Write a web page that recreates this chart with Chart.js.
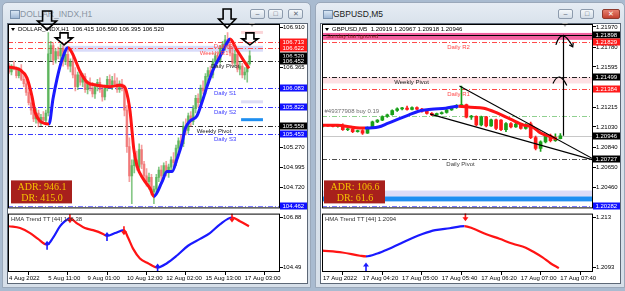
<!DOCTYPE html>
<html>
<head>
<meta charset="utf-8">
<script src="https://cdn.jsdelivr.net/npm/chart.js@4.4.0/dist/chart.umd.min.js"></script>
<style>
body{margin:0;width:625px;height:291px;background:#a9bbd0;position:relative;overflow:hidden;font-family:"Liberation Sans",Arial,sans-serif}
.win{position:absolute;top:2px;height:286px;background:linear-gradient(#e6ecf4,#d8e1eb 22px,#d6dfe9);border:1px solid #9aa8ba;border-radius:5px 5px 0 0;box-sizing:border-box}
.cap{position:absolute;left:17px;top:6px;font-size:8.5px;line-height:10px}
.ico{position:absolute;left:7px;top:7px;width:8px;height:7px;background:linear-gradient(#d9e6f4,#9fb8d6);border:1px solid #7890ad}
.btn{position:absolute;top:6px;height:10px;border:1px solid #8d9bad;border-radius:2px;background:linear-gradient(#f5f8fb,#d3dce7);box-sizing:border-box;font-size:7px;line-height:8px;text-align:center;color:#5a6573}
.client{position:absolute;left:4px;top:20px;width:301px;height:261px;background:#fff;border:1px solid #5d6877;box-sizing:border-box}
canvas{position:absolute;z-index:5}
</style>
</head>
<body>
<div class="win" style="left:2px;width:309px">
  <div class="ico"></div><div class="cap" style="color:#8a95a3">DOLLAR_INDX,H1</div>
  <div class="btn" style="left:247px;width:15px">&#8211;</div>
  <div class="btn" style="left:265px;width:15px">&#9633;</div>
  <div class="btn" style="left:285px;width:15px">&#10005;</div>
  <div class="client"></div>
</div>
<div class="win" style="left:315px;width:310px">
  <div class="ico"></div><div class="cap" style="color:#1a1a1a">GBPUSD,M5</div>
  <div class="btn" style="left:242px;width:15px">&#8211;</div>
  <div class="btn" style="left:264px;width:14px">&#9633;</div>
  <div class="btn" style="left:286px;width:18px;background:linear-gradient(#e6806f,#c4412f);border-color:#8e3a2e;color:#fff">&#10005;</div>
  <div class="client"></div>
</div>
<canvas id="usdMain" width="312" height="212" style="left:0;top:0"></canvas>
<canvas id="usdSub" width="312" height="81" style="left:0;top:210px"></canvas>
<canvas id="gbpMain" width="313" height="212" style="left:312px;top:0"></canvas>
<canvas id="gbpSub" width="313" height="81" style="left:312px;top:210px"></canvas>
<script>
// ---------- DOLLAR_INDX, H1 ----------
var usdOHLC = [
  [106.36,106.42,106.28,106.30],[106.30,106.40,106.26,106.38],[106.38,106.45,106.33,106.35],[106.35,106.37,106.22,106.25],
  [106.25,106.36,106.22,106.33],[106.33,106.40,106.18,106.20],[106.20,106.28,106.10,106.14],[106.14,106.22,105.98,106.02],
  [106.02,106.10,105.85,105.88],[105.88,105.96,105.72,105.78],[105.78,105.86,105.62,105.66],[105.66,105.80,105.60,105.74],
  [105.74,105.78,105.55,105.60],[105.60,105.72,105.57,105.68],[105.68,105.76,105.62,105.64],[105.64,105.78,105.60,105.74],
  [105.74,106.84,105.70,106.55],[106.55,106.72,106.45,106.66],[106.66,106.70,106.40,106.46],[106.46,106.62,106.42,106.58],
  [106.58,106.64,106.48,106.52],[106.52,106.68,106.46,106.62],[106.62,106.66,106.38,106.44],[106.44,106.58,106.40,106.54],
  [106.54,106.60,106.34,106.38],[106.38,106.48,106.30,106.44],[106.44,106.50,106.22,106.26],[106.26,106.36,106.04,106.10],
  [106.10,106.30,106.06,106.26],[106.26,106.32,106.12,106.16],[106.16,106.28,106.10,106.24],[106.24,106.28,106.02,106.06],
  [106.06,106.18,106.00,106.14],[106.14,106.22,106.04,106.08],[106.08,106.16,105.96,106.00],[106.00,106.14,105.94,106.10],
  [106.10,106.20,106.04,106.16],[106.16,106.22,106.02,106.06],[106.06,106.10,105.90,105.96],[105.96,106.12,105.92,106.08],
  [106.08,106.24,106.04,106.20],[106.20,106.26,106.08,106.12],[106.12,106.24,106.06,106.18],[106.18,106.28,106.10,106.14],
  [106.14,106.22,106.02,106.06],[106.06,106.18,106.02,106.14],[106.14,106.20,106.04,106.08],[106.08,106.12,105.70,105.78],
  [105.78,105.84,105.20,105.28],[105.28,105.40,104.80,104.88],[104.88,105.10,104.50,105.02],[105.02,105.16,104.92,105.10],
  [105.10,105.22,104.96,105.00],[105.00,105.32,104.95,105.24],[105.24,105.30,104.98,105.04],[105.04,105.08,104.82,104.88],
  [104.88,104.98,104.74,104.80],[104.80,104.92,104.70,104.86],[104.86,104.90,104.62,104.66],[104.66,104.74,104.50,104.70],
  [104.70,104.90,104.64,104.86],[104.86,105.00,104.80,104.96],[104.96,105.02,104.82,104.88],[104.88,105.06,104.84,105.02],
  [105.02,105.08,104.88,104.92],[104.92,105.04,104.86,105.00],[105.00,105.14,104.94,105.10],[105.10,105.20,105.00,105.06],
  [105.06,105.30,105.02,105.26],[105.26,105.40,105.20,105.36],[105.36,105.44,105.28,105.32],[105.32,105.62,105.28,105.56],
  [105.56,105.66,105.44,105.50],[105.50,105.74,105.46,105.70],[105.70,105.76,105.56,105.62],[105.62,105.84,105.58,105.80],
  [105.80,105.98,105.74,105.94],[105.94,106.00,105.82,105.88],[105.88,106.12,105.84,106.08],[106.08,106.18,106.00,106.04],
  [106.04,106.28,106.00,106.24],[106.24,106.36,106.18,106.32],[106.32,106.38,106.20,106.26],[106.26,106.48,106.22,106.44],
  [106.44,106.56,106.38,106.52],[106.52,106.58,106.42,106.46],[106.46,106.66,106.42,106.62],[106.62,106.72,106.54,106.68],
  [106.68,106.80,106.60,106.74],[106.74,106.84,106.62,106.66],[106.66,106.76,106.52,106.56],[106.56,106.64,106.38,106.42],
  [106.42,106.60,106.38,106.54],[106.54,106.58,106.30,106.34],[106.34,106.44,106.26,106.38],[106.38,106.42,106.22,106.26],
  [106.26,106.36,106.20,106.30],[106.30,106.44,106.16,106.415],[106.415,106.590,106.395,106.520]
];
var usdHmaX = [-0.4,4.5,7.3,9.4,10.6,12.6,16.3,17.9,19.5,21.6,24,25.7,28.9,31.8,35.8,41.1,45.2,47.2,48.5,49.3,50.1,50.8,52.1,54.6,57.4,59,62.3,64.3,66.4,68.4,70.4,71.7,73.7,76.5,78.6,80.6,83.1,85.9,88.8,90,92.8,95.3,97.7];
var usdHmaY = [106.37,106.33,106.22,105.96,105.75,105.63,105.59,105.93,106.20,106.47,106.63,106.56,106.31,106.16,106.12,106.10,106.12,106.09,105.93,105.76,105.49,105.25,105.02,104.84,104.71,104.60,104.80,104.94,104.94,105.11,105.32,105.52,105.63,105.70,105.89,106.10,106.33,106.51,106.70,106.75,106.60,106.47,106.35];
var usdHmaUp = [0,0,0,0,0,0,1,1,1,1,0,0,0,0,0,0,0,0,0,0,0,0,0,0,0,1,1,1,1,1,1,1,1,1,1,1,1,1,1,0,0,0,0];
var usdTicks = [106.910, 106.365, 105.270, 104.995, 104.720];
var usdLevels = [106.713, 106.622, 106.452, 106.083, 105.822, 105.558, 105.453, 104.462];
var usdLevelNames = ['Daily R1', 'Weekly R1', 'Daily Pivot', 'Daily S1', 'Daily S2', 'Weekly Pivot', 'Daily S3', ''];
var usdBadges = [106.713, 106.622, 106.520, 106.452, 106.083, 105.822, 105.558, 105.453, 104.462];
var usdZones = [[21.6, 103.4, 106.658, 106.577], [94.5, 103.4, 106.861, 106.821], [94.5, 103.4, 105.913, 105.872], [94.5, 103.4, 105.669, 105.628]];
var usdMarkX = [15.5, 22.4, 88.8, 98.1];
var usdMarkY = [106.875, 106.671, 106.902, 106.671];
var usdAdr = ['ADR: 946.1', 'DR: 415.0'];
var usdSubX = [0,4.5,8.6,11.8,15.5,17.9,20.8,22.8,24.8,27.7,30.9,34.2,38.3,39.9,43.2,46.8,48.5,50.5,53.3,56.6,60.5,64.3,68.4,72.9,77.8,81.8,85.9,90.8,94,97.7];
var usdSubY = [106.46,106.37,106.13,105.85,105.57,105.90,106.46,106.70,106.84,106.60,106.37,106.27,106.09,105.99,106.13,106.27,105.90,105.38,104.91,104.68,104.47,104.68,105.05,105.52,105.85,106.13,106.55,106.88,106.70,106.46];
var usdSubUp = [0,0,0,0,1,1,1,1,0,0,0,0,0,1,1,0,0,0,0,0,1,1,1,1,1,1,1,0,0,0];
var usdSubArrUp = [[15.5, 105.57], [39.9, 105.99], [60.5, 104.47]];
var usdSubArrDn = [[24.8, 106.84], [46.8, 106.27], [90.8, 106.88]];
var usdSubTicks = [106.88, 104.49];
var usdTimeIdx = [0, 16, 32, 48, 64, 80, 96];
var usdTimeText = ['4 Aug 2022', '5 Aug 11:00', '9 Aug 01:00', '10 Aug 12:00', '12 Aug 02:00', '15 Aug 13:00', '17 Aug 03:00'];

// ---------- GBPUSD, M5 ----------
var gbpOHLC = [
  [1.21040,1.21055,1.21030,1.21045],[1.21045,1.21052,1.21035,1.21040],[1.21040,1.21050,1.21030,1.21036],[1.21036,1.21048,1.21028,1.21044],
  [1.21044,1.21060,1.20998,1.21004],[1.21004,1.21020,1.20996,1.21012],[1.21012,1.21018,1.20975,1.20985],[1.20985,1.21000,1.20980,1.20995],
  [1.20995,1.21005,1.20960,1.20972],[1.20972,1.21030,1.20968,1.21025],[1.21025,1.21085,1.21020,1.21078],[1.21078,1.21100,1.21070,1.21094],
  [1.21094,1.21135,1.21088,1.21128],[1.21128,1.21150,1.21120,1.21145],[1.21145,1.21192,1.21140,1.21185],[1.21185,1.21210,1.21175,1.21200],
  [1.21200,1.21215,1.21190,1.21208],[1.21208,1.21225,1.21188,1.21194],[1.21194,1.21220,1.21190,1.21212],[1.21212,1.21218,1.21192,1.21198],
  [1.21198,1.21204,1.21170,1.21178],[1.21178,1.21185,1.21150,1.21158],[1.21158,1.21165,1.21135,1.21142],[1.21142,1.21160,1.21138,1.21155],
  [1.21155,1.21172,1.21150,1.21166],[1.21166,1.21196,1.21160,1.21190],[1.21190,1.21222,1.21185,1.21216],[1.21216,1.21240,1.21205,1.21232],
  [1.21232,1.21415,1.21225,1.21240],[1.21240,1.21246,1.21115,1.21122],[1.21122,1.21140,1.21100,1.21130],[1.21130,1.21135,1.21040,1.21048],
  [1.21048,1.21132,1.21040,1.21125],[1.21125,1.21130,1.21030,1.21040],[1.21040,1.21105,1.21035,1.21098],[1.21098,1.21105,1.21005,1.21015],
  [1.21095,1.21100,1.20995,1.21005],[1.21005,1.21070,1.20985,1.21062],[1.21062,1.21072,1.21020,1.21030],[1.21030,1.21065,1.21025,1.21058],
  [1.21058,1.21062,1.21010,1.21015],[1.21015,1.21062,1.21010,1.21055],[1.21060,1.21075,1.20920,1.20930],[1.20930,1.20945,1.20815,1.20828],
  [1.20828,1.20900,1.20800,1.20890],[1.20890,1.20960,1.20880,1.20950],[1.20950,1.20962,1.20890,1.20900],[1.20900,1.20965,1.20895,1.20919],
  [1.20919,1.20967,1.20918,1.20946]
];
var gbpHmaX = [-0.4,3,5.7,8.5,11.2,13.2,15.2,17.3,19.3,21.9,24.8,27.4,29.8,32.5,35.3,37.9,40.6,42.4,44,46.1,47.3];
var gbpHmaY = [1.21047,1.21047,1.21029,1.21019,1.21029,1.21066,1.21103,1.21141,1.21178,1.21196,1.21206,1.21224,1.21215,1.21206,1.21159,1.21103,1.21047,1.21029,1.20973,1.20936,1.20917];
var gbpHmaUp = [0,0,0,1,1,1,1,1,1,1,1,0,0,0,0,0,0,0,0,0,0];
var gbpTicks = [1.21970, 1.21780, 1.21595, 1.21215, 1.21030, 1.20840, 1.20650, 1.20460];
var gbpLevels = [1.21898, 1.21829, 1.21499, 1.21384, 1.21135, 1.20946, 1.20727, 1.20282];
var gbpLevelNames = ['', 'Daily R2', 'Weekly Pivot', 'Daily R1', '#49377908 buy 0.19', '', 'Daily Pivot', ''];
var gbpBadges = [1.21898, 1.21829, 1.21499, 1.21384, 1.20946, 1.20727, 1.20282];
var gbpZones = [[-1, 60, 1.21914, 1.21849], [-1, 60, 1.21499, 1.21439], [-1, 60, 1.20432, 1.20376], [-1, 60, 1.20376, 1.20330]];
var gbpTrend = [[27.6, 1.21415, 54.6, 1.20730], [21.7, 1.21150, 54.6, 1.20721]];
var gbpVLine = [48.5, 1.21898, 1.20946];
var gbpCurves = [[47.1, 1.21802, 48.3, 1.21979, 50.5, 1.21783], [46.5, 1.21439, 47.8, 1.21569, 49.3, 1.21420]];
var gbpAdr = ['ADR: 106.6', 'DR: 61.6'];
var gbpSubX = [-0.2,3.9,7.5,8.7,11,13.4,16,18.1,20.1,22.7,25.6,28.6,30.2,32.9,35.7,38.4,41,42.8,44.4,46,47.7];
var gbpSubY = [1.21053,1.21039,1.21015,1.21010,1.21032,1.21068,1.21112,1.21148,1.21177,1.21206,1.21220,1.21235,1.21220,1.21177,1.21141,1.21104,1.21075,1.21039,1.21003,1.20959,1.20923];
var gbpSubUp = [0,0,0,1,1,1,1,1,1,1,1,0,0,0,0,0,0,0,0,0,0];
var gbpSubArrUp = [[8.7, 1.21010]];
var gbpSubArrDn = [[28.8, 1.21235]];
var gbpSubTicks = ['1.213', '1.2093'];
var gbpTimeIdx = [0, 8, 16, 24, 32, 40, 48];
var gbpTimeText = ['17 Aug 2022', '17 Aug 04:20', '17 Aug 05:00', '17 Aug 05:40', '17 Aug 06:20', '17 Aug 07:00', '17 Aug 07:40'];

var RED = '#ff1414', BLUE = '#1a1aff';
var FONT = '"Liberation Sans", Arial, sans-serif';
var DASHDOT = [5, 2, 1, 2];
Chart.defaults.font.family = FONT;
Chart.defaults.font.size = 6;
Chart.defaults.color = '#000';

function downArrow(ctx, tx, ty, sw, sh, hw, hh) {
  ctx.beginPath();
  ctx.moveTo(tx, ty);
  ctx.lineTo(tx - hw / 2, ty - hh);
  ctx.lineTo(tx - sw / 2, ty - hh);
  ctx.lineTo(tx - sw / 2, ty - hh - sh);
  ctx.lineTo(tx + sw / 2, ty - hh - sh);
  ctx.lineTo(tx + sw / 2, ty - hh);
  ctx.lineTo(tx + hw / 2, ty - hh);
  ctx.closePath();
  ctx.lineWidth = 1.6;
  ctx.strokeStyle = '#000';
  ctx.stroke();
}

function glyphArrow(ctx, x, tipY, dir, len, color) {
  // dir = -1 points up, +1 points down
  ctx.strokeStyle = color; ctx.fillStyle = color; ctx.lineWidth = 1.6;
  ctx.beginPath(); ctx.moveTo(x, tipY - dir * 2); ctx.lineTo(x, tipY - dir * len); ctx.stroke();
  ctx.beginPath(); ctx.moveTo(x, tipY); ctx.lineTo(x - 3, tipY - dir * 4); ctx.lineTo(x + 3, tipY - dir * 4); ctx.closePath(); ctx.fill();
}

function overlay(o) {
  return {
    id: 'mt4',
    beforeDatasetsDraw: function (chart) {
      var ctx = chart.ctx, a = chart.chartArea, x = chart.scales.x, y = chart.scales.y;
      ctx.save();
      ctx.beginPath(); ctx.rect(a.left, a.top, a.right - a.left, a.bottom - a.top); ctx.clip();
      (o.zones || []).forEach(function (z, i) {
        var x0 = x.getPixelForValue(z[0]), x1 = x.getPixelForValue(z[1]);
        var y0 = y.getPixelForValue(z[2]), y1 = y.getPixelForValue(z[3]);
        ctx.fillStyle = o.zoneColors[i];
        ctx.fillRect(x0, y0, x1 - x0, y1 - y0);
      });
      (o.levels || []).forEach(function (v, i) {
        var st = o.levelStyles[i];
        var py = Math.round(y.getPixelForValue(v)) + 0.5;
        ctx.strokeStyle = st.c; ctx.lineWidth = 1; ctx.setLineDash(st.d ? DASHDOT : []);
        ctx.beginPath(); ctx.moveTo(a.left, py); ctx.lineTo(a.right, py); ctx.stroke();
      });
      ctx.restore();
    },
    afterDatasetsDraw: function (chart) {
      var ctx = chart.ctx, a = chart.chartArea, x = chart.scales.x, y = chart.scales.y;
      ctx.save();
      ctx.font = '6px ' + FONT;
      ctx.textBaseline = 'middle';
      // level captions
      (o.levelNames || []).forEach(function (t, i) {
        if (!t) return;
        var st = o.levelStyles[i];
        var py = y.getPixelForValue(o.levels[i]);
        ctx.fillStyle = st.tc;
        ctx.textAlign = st.align || 'center';
        ctx.fillText(t, x.getPixelForValue(st.at), py + (st.above ? -4 : 5));
      });
      ctx.save();
      ctx.beginPath(); ctx.rect(a.left, a.top, a.right - a.left, a.bottom - a.top); ctx.clip();
      // trend lines, vertical line, curved arrows
      ctx.strokeStyle = '#000'; ctx.lineWidth = 1.2; ctx.setLineDash([]);
      (o.trend || []).forEach(function (t) {
        ctx.beginPath();
        ctx.moveTo(x.getPixelForValue(t[0]), y.getPixelForValue(t[1]));
        ctx.lineTo(x.getPixelForValue(t[2]), y.getPixelForValue(t[3]));
        ctx.stroke();
      });
      if (o.vline) {
        var vx = Math.round(x.getPixelForValue(o.vline[0])) + 0.5;
        ctx.beginPath(); ctx.moveTo(vx, y.getPixelForValue(o.vline[1])); ctx.lineTo(vx, y.getPixelForValue(o.vline[2])); ctx.stroke();
      }
      (o.curves || []).forEach(function (c, i) {
        var p0x = x.getPixelForValue(c[0]), p0y = y.getPixelForValue(c[1]);
        var cx = x.getPixelForValue(c[2]), cy = y.getPixelForValue(c[3]);
        var p1x = x.getPixelForValue(c[4]), p1y = y.getPixelForValue(c[5]);
        ctx.beginPath(); ctx.moveTo(p0x, p0y); ctx.quadraticCurveTo(cx, cy, p1x, p1y); ctx.stroke();
        if (i === 0) {
          var ang = Math.atan2(p1y - cy, p1x - cx);
          ctx.beginPath();
          ctx.moveTo(p1x - 4 * Math.cos(ang - 0.6), p1y - 4 * Math.sin(ang - 0.6));
          ctx.lineTo(p1x, p1y);
          ctx.lineTo(p1x - 4 * Math.cos(ang + 0.6), p1y - 4 * Math.sin(ang + 0.6));
          ctx.stroke();
        }
      });
      // HMA signal arrows
      (o.arrUp || []).forEach(function (p) {
        glyphArrow(ctx, x.getPixelForValue(p[0]), y.getPixelForValue(p[1]) + o.upTip, -1, o.arrLen, BLUE);
      });
      (o.arrDn || []).forEach(function (p) {
        glyphArrow(ctx, x.getPixelForValue(p[0]), y.getPixelForValue(p[1]) + o.dnTip, 1, o.arrLen, RED);
      });
      ctx.restore();
      // big outlined arrows (may leave the plot)
      (o.markX || []).forEach(function (mx, i) {
        var s = o.markSizes[i];
        downArrow(ctx, x.getPixelForValue(mx), y.getPixelForValue(o.markY[i]), s[0], s[1], s[2], s[3]);
      });
      // header texts
      ctx.textAlign = 'left';
      ctx.fillStyle = '#000';
      if (o.header) {
        ctx.beginPath(); ctx.moveTo(a.left + 3, a.top + 4); ctx.lineTo(a.left + 7, a.top + 4); ctx.lineTo(a.left + 5, a.top + 7); ctx.closePath(); ctx.fill();
        ctx.fillText(o.header, a.left + 10, a.top + 5);
      }
      if (o.subTitle) { ctx.fillStyle = '#333'; ctx.fillText(o.subTitle, a.left + 3, a.top + 6); }
      if (o.note) { ctx.fillStyle = '#8b1a1a'; ctx.fillText(o.note, a.left + 4, y.getPixelForValue(o.noteAt)); }
      // ADR box
      if (o.adr) {
        var bx = a.left + o.adrBox[0], by = a.bottom - o.adrBox[1];
        ctx.fillStyle = '#a8201c';
        ctx.fillRect(bx, by, 61, 23);
        ctx.fillStyle = '#f5c200';
        ctx.font = '10px "Liberation Serif", serif';
        ctx.textAlign = 'center';
        ctx.fillText(o.adr[0], bx + 31, by + 7);
        ctx.fillText(o.adr[1], bx + 31, by + 17.5);
      }
      // shift marker
      if (o.header) {
        ctx.fillStyle = '#a6a6a6';
        var sx = a.right - 28;
        ctx.beginPath(); ctx.moveTo(sx - 3, a.top - 1); ctx.lineTo(sx + 3, a.top - 1); ctx.lineTo(sx, a.top + 3); ctx.closePath(); ctx.fill();
      }
      // frame
      ctx.strokeStyle = '#000'; ctx.lineWidth = 1;
      ctx.strokeRect(a.left + 0.5, a.top + 0.5, a.right - a.left - 1, a.bottom - a.top - 1);
      // price badges on the axis
      ctx.font = '6px ' + FONT;
      ctx.textAlign = 'left';
      (o.badges || []).forEach(function (v, i) {
        var py = Math.round(y.getPixelForValue(v));
        ctx.fillStyle = o.badgeColors[i];
        ctx.fillRect(a.right, py - 3.5, 27, 7);
        ctx.fillStyle = '#fff';
        ctx.fillText(v.toFixed(o.digits), a.right + 2.5, py + 0.5);
      });
      ctx.restore();
    }
  };
}

function candleSets(rows, up, dn, bodyW) {
  var cols = rows.map(function (r) { return r[3] >= r[0] ? up : dn; });
  return [
    { type: 'bar', data: rows.map(function (r, i) { return { x: i, y: [r[0], r[3]] }; }), backgroundColor: cols,
      barThickness: bodyW, minBarLength: 1, grouped: false, order: 2 },
    { type: 'bar', data: rows.map(function (r, i) { return { x: i, y: [r[2], r[1]] }; }), backgroundColor: cols,
      barThickness: 1, grouped: false, order: 3 }
  ];
}

function hmaSet(xs, ys, ups, w) {
  return {
    type: 'line', order: 1,
    data: xs.map(function (v, i) { return { x: v, y: ys[i] }; }),
    borderColor: RED, borderWidth: w, pointRadius: 0, cubicInterpolationMode: 'monotone',
    segment: { borderColor: function (c) { return ups[c.p0DataIndex] ? BLUE : RED; } }
  };
}

function paneChart(id, p) {
  var xAxis = { type: 'linear', min: p.xMin, max: p.xMax, offset: false, display: !!p.times };
  if (p.times) {
    xAxis.afterFit = function (s) { s.height = 19; };
    xAxis.afterBuildTicks = function (s) { s.ticks = p.timeIdx.map(function (v) { return { value: v }; }); };
    xAxis.ticks = { align: 'start', maxRotation: 0, autoSkip: false, padding: 0, color: '#000',
      callback: function (v) { return p.times[p.timeIdx.indexOf(v)]; } };
    xAxis.grid = { drawOnChartArea: false, tickLength: 3, color: '#000' };
    xAxis.border = { display: false };
  }
  return new Chart(document.getElementById(id), {
    type: 'bar',
    data: { datasets: p.datasets },
    options: {
      responsive: false, animation: false, events: [],
      layout: { padding: { left: p.padL, top: p.padT, bottom: p.padB, right: 0 } },
      plugins: { legend: { display: false }, tooltip: { enabled: false } },
      scales: {
        x: xAxis,
        y: {
          position: 'right', min: p.yMin, max: p.yMax,
          afterFit: function (s) { s.width = 32; },
          afterBuildTicks: function (s) { s.ticks = p.ticks.map(function (v) { return { value: v }; }); },
          ticks: { autoSkip: false, padding: 0, color: '#000',
            callback: function (v, i) { return p.tickText[i]; } },
          grid: { drawOnChartArea: false, tickLength: 3, color: '#000' },
          border: { display: false }
        }
      }
    },
    plugins: [overlay(p.ov)]
  });
}

var usdLast = usdOHLC[usdOHLC.length - 1];
paneChart('usdMain', {
  xMin: -0.41, xMax: 110.34, yMin: 104.436, yMax: 106.956, padL: 8, padT: 24, padB: 2,
  ticks: usdTicks, tickText: usdTicks.map(function (v) { return v.toFixed(3); }),
  datasets: [hmaSet(usdHmaX, usdHmaY, usdHmaUp, 3)].concat(candleSets(usdOHLC, 'rgba(70,170,70,0.65)', 'rgba(238,95,95,0.6)', 2)),
  ov: {
    digits: 3,
    header: 'DOLLAR_INDX,H1  ' + usdLast.map(function (v) { return v.toFixed(3); }).join(' '),
    zones: usdZones, zoneColors: ['#d9dcfa', '#fbd5d8', '#dcdcf6', '#1f8ff0'],
    levels: usdLevels, levelNames: usdLevelNames,
    levelStyles: [
      { c: '#ff4a4a', d: 1, tc: '#ff4a4a', at: 88 }, { c: '#ff4a4a', d: 1, tc: '#ff4a4a', at: 83.5 },
      { c: '#303030', d: 1, tc: '#202020', at: 88 }, { c: '#3b3bff', d: 1, tc: '#3b3bff', at: 88 },
      { c: '#3b3bff', d: 1, tc: '#3b3bff', at: 88 }, { c: '#303030', d: 1, tc: '#202020', at: 83.5 },
      { c: '#3b3bff', d: 1, tc: '#3b3bff', at: 88 }, { c: '#7a7aff', d: 1, tc: '#7a7aff', at: 0 }
    ],
    badges: usdBadges, badgeColors: ['#ff1a1a', '#ff1a1a', '#000', '#000', '#1010ff', '#1010ff', '#000', '#1010ff', '#1010ff'],
    markX: usdMarkX, markY: usdMarkY, markSizes: [[9, 10, 19, 9], [8, 5, 17, 7], [8, 10, 17, 9], [8, 6, 16, 6]],
    adr: usdAdr, adrBox: [3, 28]
  }
});
paneChart('usdSub', {
  xMin: -0.41, xMax: 110.34, yMin: 104.256, yMax: 107.067, padL: 8, padT: 2, padB: 0,
  ticks: usdSubTicks, tickText: usdSubTicks.map(function (v) { return v.toFixed(2); }),
  times: usdTimeText, timeIdx: usdTimeIdx,
  datasets: [hmaSet(usdSubX, usdSubY, usdSubUp, 2.2)],
  ov: { subTitle: 'HMA Trend TT [44] 106.38', arrUp: usdSubArrUp, arrDn: usdSubArrDn, upTip: -4, dnTip: 5, arrLen: 9 }
});

var gbpLast = gbpOHLC[gbpOHLC.length - 1];
paneChart('gbpMain', {
  xMin: -0.2, xMax: 54.6, yMin: 1.20264, yMax: 1.21998, padL: 10, padT: 24, padB: 2,
  ticks: gbpTicks, tickText: gbpTicks.map(function (v) { return v.toFixed(5); }),
  datasets: [hmaSet(gbpHmaX, gbpHmaY, gbpHmaUp, 3)].concat(candleSets(gbpOHLC, '#19a019', '#ff1a1a', 3)),
  ov: {
    digits: 5,
    header: 'GBPUSD,M5  ' + gbpLast.map(function (v) { return v.toFixed(5); }).join(' '),
    note: 'Sunday bar ignored', noteAt: 1.21880,
    zones: gbpZones, zoneColors: ['#f2609f', '#fde0e4', '#dcdcf8', '#1e8ff2'],
    levels: gbpLevels, levelNames: gbpLevelNames,
    levelStyles: [
      { c: '#000', d: 0 }, { c: '#ff4a4a', d: 1, tc: '#ff4a4a', at: 27.4 },
      { c: '#202020', d: 1, tc: '#202020', at: 17.9 }, { c: '#ff4a4a', d: 1, tc: '#ff4a4a', at: 27.4 },
      { c: '#8fd08f', d: 1, tc: '#6e6e6e', at: 0.3, align: 'left', above: 1 }, { c: '#c8c8c8', d: 0 },
      { c: '#505050', d: 1, tc: '#404040', at: 27.8 }, { c: '#7a7aff', d: 1 }
    ],
    badges: gbpBadges, badgeColors: ['#000', '#ff1a1a', '#000', '#ff1a1a', '#000', '#000', '#1010ff'],
    trend: gbpTrend, vline: gbpVLine, curves: gbpCurves,
    adr: gbpAdr, adrBox: [2, 28]
  }
});
paneChart('gbpSub', {
  xMin: -0.2, xMax: 54.6, yMin: 1.20894, yMax: 1.21329, padL: 10, padT: 2, padB: 0,
  ticks: [1.213, 1.2093], tickText: gbpSubTicks,
  times: gbpTimeText, timeIdx: gbpTimeIdx,
  datasets: [hmaSet(gbpSubX, gbpSubY, gbpSubUp, 2.2)],
  ov: { subTitle: 'HMA Trend TT [44] 1.2094', arrUp: gbpSubArrUp, arrDn: gbpSubArrDn, upTip: 6, dnTip: -5, arrLen: 9 }
});
</script>
</body>
</html>
